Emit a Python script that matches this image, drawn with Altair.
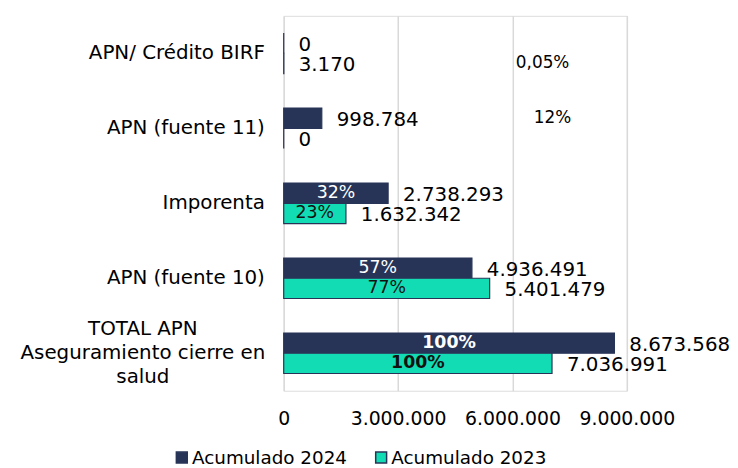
import altair as alt
import pandas as pd

categories = [
    "APN/ Crédito BIRF",
    "APN (fuente 11)",
    "Imporenta",
    "APN (fuente 10)",
    "TOTAL APN\nAseguramiento cierre en\nsalud",
]
series = ["Acumulado 2024", "Acumulado 2023"]
values_2024 = [0, 998784, 2738293, 4936491, 8673568]
values_2023 = [3170, 0, 1632342, 5401479, 7036991]
pct_2024 = ["", "12%", "32%", "57%", "100%"]
pct_2023 = ["0,05%", "", "23%", "77%", "100%"]
x_ticks = [0, 3000000, 6000000, 9000000]
# share labels that Excel left floating to the right (x in data units)
floating_pct_x = {
    ("APN (fuente 11)", "Acumulado 2024"): 7050000,
    ("APN/ Crédito BIRF", "Acumulado 2023"): 6790000,
}

DARK = "#283457"
TEAL = "#12DCB4"
FONT = "DejaVu Sans"

rows = []
for s, vals, pcts in [(series[0], values_2024, pct_2024), (series[1], values_2023, pct_2023)]:
    for c, v, p in zip(categories, vals, pcts):
        key = (c, s)
        rows.append({
            "cat": c,
            "series": s,
            "value": v,
            "value_text": f"{v:,}".replace(",", "."),
            "pct": p,
            "floating": key in floating_pct_x,
            "pct_x": floating_pct_x.get(key, v / 2),
            "bold": p == "100%",
        })
df = pd.DataFrame(rows)
cat_df = pd.DataFrame({"cat": categories, "is_total": [c.startswith("TOTAL") for c in categories]})

y_enc = alt.Y("cat:N", sort=categories,
              scale=alt.Scale(paddingInner=0.46, paddingOuter=0.23), axis=None)
yoff = alt.YOffset("series:N", sort=series)

base = alt.Chart(df)

bars = base.mark_bar(stroke=DARK, strokeWidth=1.2).encode(
    x=alt.X("value:Q", title=None,
            scale=alt.Scale(domain=[0, 9000000], nice=False),
            axis=alt.Axis(values=x_ticks, format=",d", grid=True, gridColor="#d9d9d9",
                          gridWidth=1.5, domain=False, ticks=False, labelFontSize=19,
                          labelFont=FONT, labelColor="black", labelPadding=19,
                          labelFlush=False, labelOverlap=False)),
    y=y_enc,
    yOffset=yoff,
    color=alt.Color("series:N", sort=series,
                    scale=alt.Scale(domain=series, range=[DARK, TEAL]),
                    legend=alt.Legend(title=None, orient="none", direction="horizontal",
                                      legendX=-112, legendY=436, symbolType="square",
                                      symbolSize=121, symbolStrokeColor=DARK,
                                      symbolStrokeWidth=1.5, symbolOpacity=1,
                                      labelFontSize=18.5, labelFont=FONT, labelColor="black",
                                      labelOffset=1, labelLimit=400, columnPadding=25)),
)

value_labels = base.mark_text(align="left", baseline="middle", dx=15, dy=2, fontSize=20,
                              font=FONT, color="black").encode(
    x="value:Q", y=y_enc, yOffset=yoff, text="value_text:N"
)

pct_color = alt.condition("datum.series == 'Acumulado 2024'", alt.value("white"), alt.value("#111111"))

pct_normal = base.transform_filter(
    "datum.pct != '' && !datum.floating && !datum.bold"
).mark_text(align="center", baseline="middle", fontSize=17.5, font=FONT).encode(
    x="pct_x:Q", y=y_enc, yOffset=yoff, text="pct:N", color=pct_color
)

pct_bold = base.transform_filter("datum.bold").mark_text(
    align="center", baseline="middle", fontSize=17.5, font=FONT, fontWeight="bold"
).encode(
    x="pct_x:Q", y=y_enc, yOffset=yoff, text="pct:N", color=pct_color
)

pct_float = base.transform_filter("datum.floating").mark_text(
    align="center", baseline="middle", fontSize=17, font=FONT, color="black"
).encode(
    x="pct_x:Q", y=y_enc, yOffset=yoff, text="pct:N"
)

cat_base = alt.Chart(cat_df)
cat_labels = cat_base.transform_filter("!datum.is_total").mark_text(
    align="right", baseline="middle", fontSize=20, font=FONT, color="black"
).encode(y=y_enc, x=alt.value(-19), text="cat:N")

total_label = cat_base.transform_filter("datum.is_total").mark_text(
    align="center", baseline="middle", fontSize=20, font=FONT, color="black",
    lineBreak="\n", lineHeight=24.5, dy=-24.5
).encode(y=y_enc, x=alt.value(-142), text="cat:N")

chart = alt.layer(
    bars, value_labels, pct_normal, pct_bold, pct_float, cat_labels, total_label
).properties(
    width=346, height=378,
    autosize=alt.AutoSizeParams(type="none"),
    padding={"left": 278, "top": 6, "right": 104, "bottom": 76},
).configure_view(strokeWidth=0).configure(
    locale={"number": {"decimal": ",", "thousands": ".", "grouping": [3], "currency": ["", ""]}}
)

chart.save("out.html", embed_options={"renderer": "svg", "actions": False})
